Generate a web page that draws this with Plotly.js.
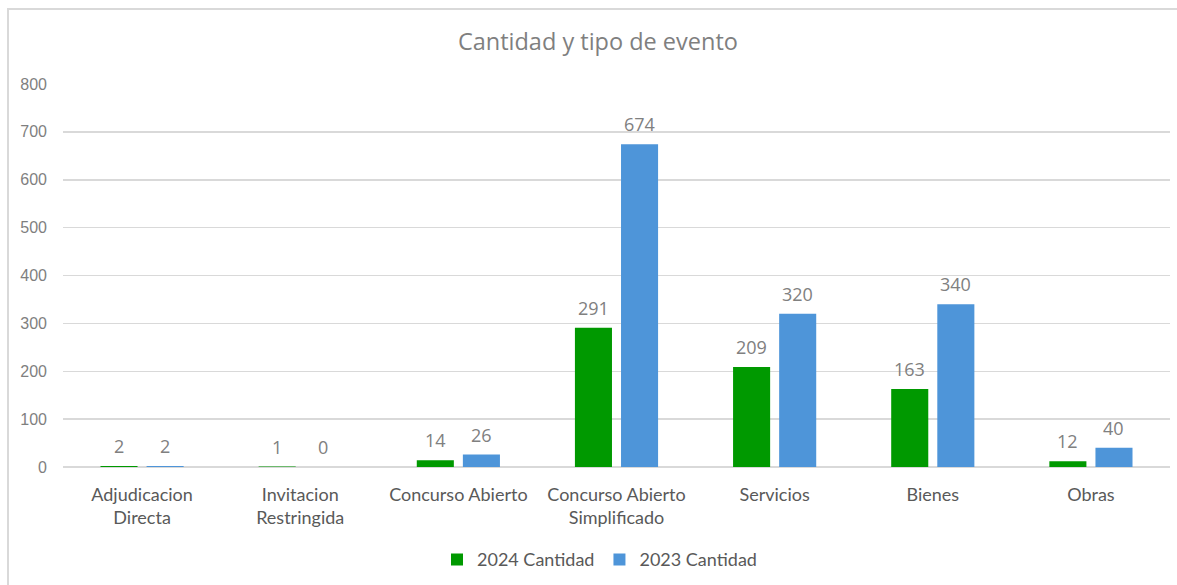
<!DOCTYPE html>
<html>
<head>
<meta charset="utf-8">
<script src="https://cdn.plot.ly/plotly-3.0.1.min.js"></script>
<style>
  html, body { margin: 0; padding: 0; background: #fff; overflow: hidden; }
  #wrap { position: relative; width: 1177px; height: 585px; }
  #chart { position: absolute; left: 0; top: 0; width: 1177px; height: 585px; }
  #frame { position: absolute; left: 7px; top: 8px; width: 1200px; height: 600px; border: 2px solid #d9d9d9; box-sizing: border-box; pointer-events: none; }
</style>
</head>
<body>
<div id="wrap">
  <div id="chart"></div>
  <div id="frame"></div>
</div>
<script>
const categories = ["Adjudicacion<br>Directa", "Invitacion<br>Restringida", "Concurso Abierto", "Concurso Abierto<br>Simplificado", "Servicios", "Bienes", "Obras"];
const values2024 = [2, 1, 14, 291, 209, 163, 12];
const values2023 = [2, 0, 26, 674, 320, 340, 40];
const seriesNames = ["2024 Cantidad", "2023 Cantidad"];
const tickVals = [0, 100, 200, 300, 400, 500, 600, 700, 800];

const green = "#009900";
const blue = "#4e95d9";
const labelFont = { family: "Open Sans, sans-serif", size: 18, color: "#808080" };

const traces = [
  { type: "bar", name: seriesNames[0], x: categories, y: values2024, marker: { color: green, line: { width: 0 } }, hoverinfo: "none" },
  { type: "bar", name: seriesNames[1], x: categories, y: values2023, marker: { color: blue, line: { width: 0 } }, hoverinfo: "none" }
];

const annotations = [];
[values2024, values2023].forEach((vals, si) => {
  vals.forEach((v, i) => {
    annotations.push({
      x: categories[i], y: v, xref: "x", yref: "y",
      text: String(v), showarrow: false,
      xanchor: "center", yanchor: "bottom",
      xshift: si === 0 ? -23 : 23, yshift: 6,
      font: labelFont
    });
  });
});

const layout = {
  width: 1177, height: 585,
  margin: { l: 63, r: 7, t: 84, b: 115 },
  paper_bgcolor: "#fff", plot_bgcolor: "#fff",
  title: {
    text: "Cantidad y tipo de evento",
    x: 0.508, xanchor: "center", y: 1 - 42 / 585, yanchor: "middle", yref: "container",
    font: { family: "Open Sans, sans-serif", size: 23.5, color: "#7f7f7f" }
  },
  barmode: "group",
  bargap: 0.417,
  bargroupgap: 0.196,
  xaxis: {
    showgrid: false, zeroline: false, showline: false, ticks: "",
    ticklabelstandoff: 15,
    tickfont: { family: "Lato, sans-serif", size: 18, color: "#595959" },
    fixedrange: true
  },
  yaxis: {
    range: [0, 800], tickvals: tickVals, ticktext: tickVals.map(String),
    showgrid: true, gridcolor: "#d9d9d9", gridwidth: 1.5,
    zeroline: true, zerolinecolor: "#d9d9d9", zerolinewidth: 1.5,
    showline: false, ticks: "",
    ticklabelstandoff: 15,
    tickfont: { family: "Liberation Sans, Arial, sans-serif", size: 16, color: "#7f7f7f" },
    fixedrange: true
  },
  showlegend: true,
  legend: {
    orientation: "h", x: 0.5 - 17 / 1107, xanchor: "center", y: (468 - 561) / 384, yanchor: "middle",
    font: { family: "Lato, sans-serif", size: 18, color: "#595959" },
    itemwidth: 30, traceorder: "normal"
  },
  annotations: annotations
};

Plotly.newPlot("chart", traces, layout, { displayModeBar: false, staticPlot: true });
</script>
</body>
</html>
